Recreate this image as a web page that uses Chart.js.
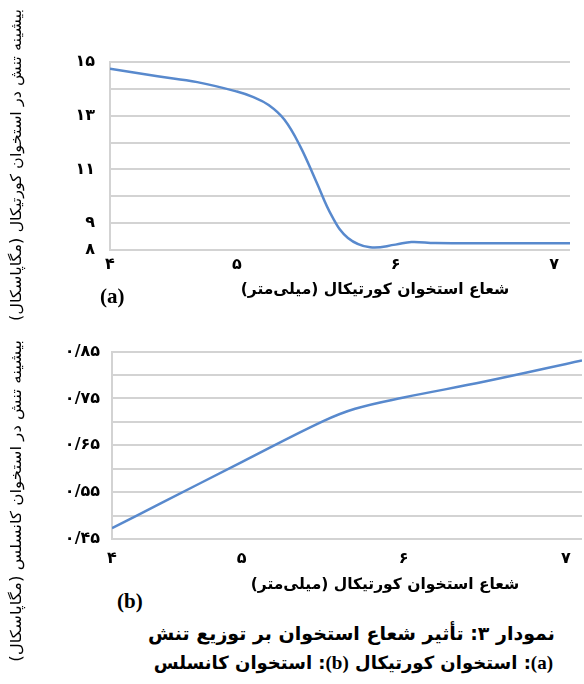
<!DOCTYPE html>
<html lang="fa">
<head>
<meta charset="utf-8">
<script src="https://cdn.jsdelivr.net/npm/chart.js@4/dist/chart.umd.min.js"></script>
<style>
  html, body { margin: 0; padding: 0; background: #fff; }
  body { width: 584px; height: 684px; position: relative; overflow: hidden; font-family: 'DejaVu Sans', sans-serif; }
  canvas { position: absolute; left: 0; }
  .ytitle { position: absolute; left: 0; top: 0; white-space: nowrap; direction: rtl; font-size: 15px; color: #000;
            transform-origin: center center; }
  .xtitle { position: absolute; white-space: nowrap; direction: rtl; font-weight: bold; font-size: 15.5px; color: #000; text-align: center; }
  .tag { position: absolute; font-family: 'Liberation Serif', serif; font-weight: bold; font-size: 21px; color: #000; }
  .cap { position: absolute; white-space: nowrap; direction: rtl; font-weight: bold; color: #000; text-align: right; }
  .cap b { font-family: 'Liberation Serif', serif; font-size: 19px; }
</style>
</head>
<body>
<canvas id="chartA" width="584" height="330" style="top:0"></canvas>
<canvas id="chartB" width="584" height="250" style="top:330px"></canvas>

<div class="ytitle" id="ytA">بیشینه تنش در استخوان کورتیکال (مگاپاسکال)</div>
<div class="ytitle" id="ytB">بیشینه تنش در استخوان کانسلس (مگاپاسکال)</div>

<div class="tag" style="left:100px; top:284px;">(a)</div>
<div class="xtitle" style="left:225px; top:280px; width:300px;">شعاع استخوان کورتیکال (میلی‌متر)</div>

<div class="tag" style="left:117px; top:589px;">(b)</div>
<div class="xtitle" style="left:235px; top:575px; width:300px;">شعاع استخوان کورتیکال (میلی‌متر)</div>

<div class="cap" style="right:29px; top:622px; font-size:19px;">نمودار ۳: تأثیر شعاع استخوان بر توزیع تنش</div>
<div class="cap" style="right:31px; top:652px; font-size:18px;"><b>(a)</b>: استخوان کورتیکال <b>(b)</b>: استخوان کانسلس</div>

<script>
// Bone radius (mm) and peak stress readings
const radiusCortical = [4.2, 4.5, 4.75, 5.0, 5.1, 5.2, 5.3, 5.4, 5.5, 5.6, 5.7, 5.84, 6.0, 6.1, 6.25, 6.6, 7.1];
const stressCortical = [14.75, 14.47, 14.25, 13.9, 13.7, 13.4, 12.85, 11.85, 10.55, 9.25, 8.45, 8.1, 8.2, 8.3, 8.26, 8.25, 8.25];

const radiusCancellous = [4.2, 4.5, 5.0, 5.5, 5.7, 6.0, 6.5, 7.1];
const stressCancellous = [0.473, 0.526, 0.614, 0.701, 0.728, 0.752, 0.786, 0.831];

// Radius axis ticks
const xTickValues = [4.2, 5, 6, 7];
const xTickLabels = ['۴', '۵', '۶', '۷'];

// Stress axis ticks (cortical): grid every 1, labels on some
const yGridA = [8, 9, 10, 11, 12, 13, 14, 15];
const yLabelValuesA = [8, 9, 11, 13, 15];
const yLabelTextA = ['۸', '۹', '۱۱', '۱۳', '۱۵'];

// Stress axis ticks (cancellous): grid every 0.05, labels every 0.1
const yGridB = [0.45, 0.50, 0.55, 0.60, 0.65, 0.70, 0.75, 0.80, 0.85];
const yLabelValuesB = [0.45, 0.55, 0.65, 0.75, 0.85];
const yLabelTextB = ['۰/۴۵', '۰/۵۵', '۰/۶۵', '۰/۷۵', '۰/۸۵'];

const LINE_COLOR = '#5889cd';
const GRID_COLOR = '#d3d3d3';
const TICK_FONT = { family: "'DejaVu Sans', sans-serif", size: 16, weight: 'bold' };

function labelFor(values, texts) {
  return (v) => {
    const i = values.findIndex(t => Math.abs(t - v) < 1e-6);
    return i >= 0 ? texts[i] : '';
  };
}

function buildChart(canvasId, xs, ys, cfg) {
  return new Chart(document.getElementById(canvasId), {
    type: 'line',
    data: {
      datasets: [{
        data: xs.map((x, i) => ({ x: x, y: ys[i] })),
        borderColor: LINE_COLOR,
        borderWidth: 2.5,
        pointRadius: 0,
        fill: false,
        tension: 0.4
      }]
    },
    options: {
      responsive: false,
      animation: false,
      events: [],
      plugins: { legend: { display: false }, tooltip: { enabled: false } },
      layout: { padding: cfg.padding },
      scales: {
        x: {
          type: 'linear',
          min: 4.2, max: cfg.xMax,
          afterBuildTicks: (s) => { s.ticks = xTickValues.map(v => ({ value: v })); },
          afterFit: (s) => { s.height = cfg.xHeight; },
          grid: { display: false, drawTicks: false },
          border: { display: false },
          ticks: {
            autoSkip: false, maxRotation: 0, padding: cfg.xPad,
            color: '#000', font: TICK_FONT,
            callback: labelFor(xTickValues, xTickLabels)
          }
        },
        y: {
          min: cfg.yMin, max: cfg.yMax,
          afterBuildTicks: (s) => { s.ticks = cfg.yGrid.map(v => ({ value: v })); },
          afterFit: (s) => { s.width = cfg.yWidth; },
          grid: { color: GRID_COLOR, lineWidth: 2, drawTicks: false },
          border: { display: true, color: GRID_COLOR, width: 2 },
          ticks: {
            padding: cfg.yPad, color: '#000', font: TICK_FONT,
            callback: labelFor(cfg.yLabelValues, cfg.yLabelText)
          }
        }
      }
    }
  });
}

buildChart('chartA', radiusCortical, stressCortical, {
  padding: { top: 62, right: 14, bottom: 0, left: 0 },
  xMax: 7.1, xHeight: 80, xPad: 5,
  yMin: 8, yMax: 15, yGrid: yGridA, yWidth: 110, yPad: 15,
  yLabelValues: yLabelValuesA, yLabelText: yLabelTextA
});

buildChart('chartB', radiusCancellous, stressCancellous, {
  padding: { top: 14, right: 2, bottom: 0, left: 0 },
  xMax: 7.1, xHeight: 41, xPad: 10,
  yMin: 0.45, yMax: 0.85, yGrid: yGridB, yWidth: 112, yPad: 12,
  yLabelValues: yLabelValuesB, yLabelText: yLabelTextB
});

// Rotated axis titles, centred on (cx, cy) and fitted to the given length
function placeVertical(el, cx, cy, len) {
  const w = el.offsetWidth, h = el.offsetHeight;
  el.style.left = (cx - w / 2) + 'px';
  el.style.top = (cy - h / 2) + 'px';
  el.style.transform = 'rotate(-90deg) scaleX(' + (len / w) + ')';
}
placeVertical(document.getElementById('ytA'), 16, 165, 312);
placeVertical(document.getElementById('ytB'), 16, 501, 322);
</script>
</body>
</html>
